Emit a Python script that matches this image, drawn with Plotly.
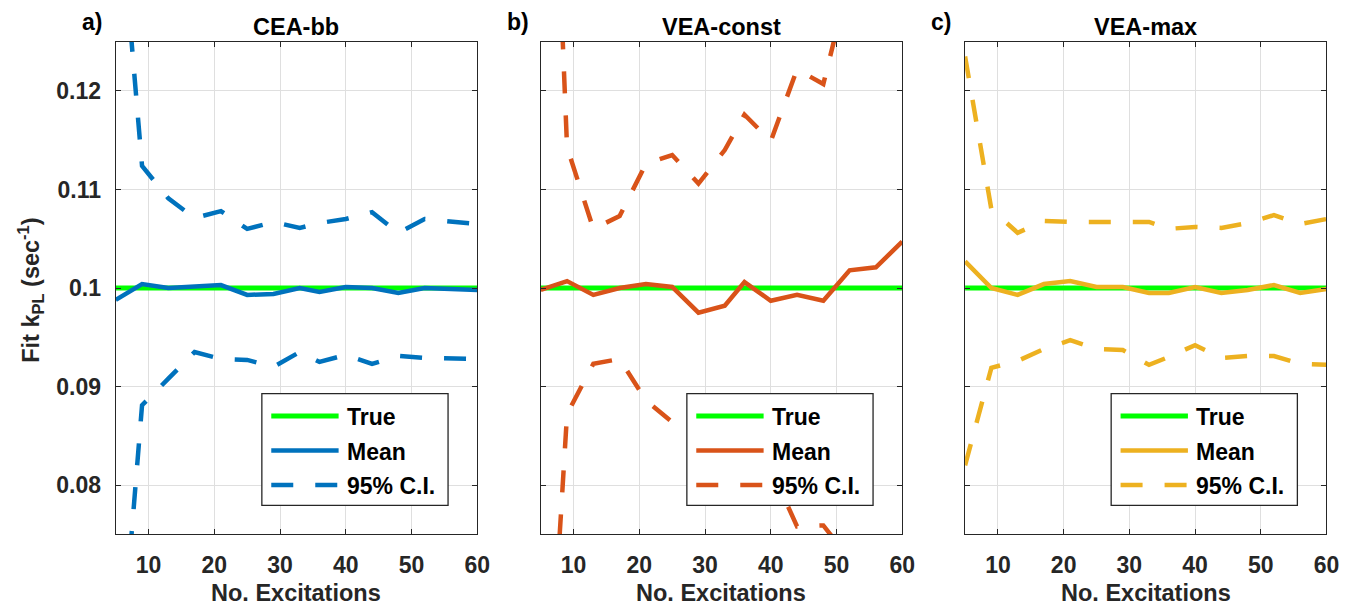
import plotly.graph_objects as go

# page body adds an 8px margin; the figure is sized/positioned to compensate
OFF = 8
W, H = 1370 - OFF, 610 - OFF

# ---------------- data ----------------
x_exc = [5, 9, 13, 17, 21, 25, 29, 33, 36, 40, 44, 48, 52, 56, 60]
TRUE_K = 0.1

a_mean = [0.0988, 0.1004, 0.1000, 0.1002, 0.1003, 0.0993, 0.0994, 0.1000, 0.0996, 0.1001, 0.1000, 0.0995, 0.1000, 0.0999, 0.0998]
a_upper = [0.144, 0.1124, 0.1091, 0.1071, 0.1078, 0.1060, 0.1067, 0.1061, 0.1066, 0.1070, 0.1077, 0.1056, 0.1070, 0.1068, 0.1065]
a_lower = [0.0553, 0.0881, 0.0908, 0.0935, 0.0928, 0.0927, 0.0920, 0.0935, 0.0925, 0.0932, 0.0923, 0.0931, 0.0929, 0.0928, 0.0928]

b_mean = [0.0998, 0.1007, 0.0993, 0.1000, 0.1004, 0.1001, 0.0975, 0.0982, 0.1006, 0.0987, 0.0993, 0.0987, 0.1018, 0.1021, 0.1047]
b_upper = [0.180, 0.1143, 0.1060, 0.1073, 0.1126, 0.1135, 0.1106, 0.1140, 0.1176, 0.1149, 0.1222, 0.1207, 0.1315, 0.138, 0.145]
b_lower = [0.0436, 0.0872, 0.0923, 0.0928, 0.0886, 0.0864, 0.0850, 0.0838, 0.0828, 0.0817, 0.0758, 0.0759, 0.0725, 0.068, 0.064]

c_mean = [0.1027, 0.1000, 0.0993, 0.1004, 0.1007, 0.1001, 0.1001, 0.0995, 0.0995, 0.1001, 0.0995, 0.0998, 0.1003, 0.0995, 0.0999]
c_upper = [0.1235, 0.1080, 0.1056, 0.1068, 0.1067, 0.1067, 0.1067, 0.1067, 0.1060, 0.1062, 0.1061, 0.1066, 0.1074, 0.1065, 0.1070]
c_lower = [0.0820, 0.0919, 0.0926, 0.0938, 0.0947, 0.0938, 0.0937, 0.0922, 0.0930, 0.0942, 0.0929, 0.0931, 0.0931, 0.0923, 0.0922]

panel_titles = ["CEA-bb", "VEA-const", "VEA-max"]
panel_letters = ["a)", "b)", "c)"]
panel_colors = ["#0072BD", "#D95319", "#EDB120"]
means = [a_mean, b_mean, c_mean]
uppers = [a_upper, b_upper, c_upper]
lowers = [a_lower, b_lower, c_lower]
legend_labels = ["True", "Mean", "95% C.I."]

y_tickvals = [0.08, 0.09, 0.1, 0.11, 0.12]
y_ticktext = ["0.08", "0.09", "0.1", "0.11", "0.12"]
x_tickvals = [10, 20, 30, 40, 50, 60]

# ---------------- layout geometry (screen pixels) ----------------
plot_left = [116.8, 545.9, 974.3]
plot_w = 364.9
top_px, bot_px = 41.7, 534.3
GREEN = "#00FF00"
AX = "#262626"
FONT = "Liberation Sans, Arial, Helvetica, sans-serif"
DASH = "22px,22px"
LW = 4.5


def fx(p):
    return (p - OFF) / W


def fy(p):
    return 1 - (p - OFF) / H


fig = go.Figure()
layout = dict(
    width=W, height=H,
    margin=dict(l=0, r=0, t=0, b=0),
    paper_bgcolor="white", plot_bgcolor="white",
    showlegend=False,
    font=dict(family=FONT, color=AX),
)
shapes = []
annotations = []

for i in range(3):
    s = "" if i == 0 else str(i + 1)
    xa, ya = "x" + s, "y" + s
    col = panel_colors[i]
    fig.add_trace(go.Scatter(x=x_exc, y=[TRUE_K] * len(x_exc), mode="lines",
                             line=dict(color=GREEN, width=5), xaxis=xa, yaxis=ya, name="True"))
    fig.add_trace(go.Scatter(x=x_exc, y=means[i], mode="lines",
                             line=dict(color=col, width=LW), xaxis=xa, yaxis=ya, name="Mean"))
    fig.add_trace(go.Scatter(x=x_exc, y=uppers[i], mode="lines",
                             line=dict(color=col, width=LW, dash=DASH), xaxis=xa, yaxis=ya, name="95% C.I."))
    fig.add_trace(go.Scatter(x=x_exc, y=lowers[i], mode="lines",
                             line=dict(color=col, width=LW, dash=DASH), xaxis=xa, yaxis=ya, name="95% C.I."))

    l = plot_left[i]
    layout["xaxis" + s] = dict(
        domain=[fx(l), fx(l + plot_w)], range=[5, 60], anchor=ya,
        tickvals=x_tickvals, ticks="inside", ticklen=5, tickwidth=1, tickcolor=AX,
        showline=True, linecolor=AX, linewidth=1.3, mirror="ticks",
        showgrid=True, gridcolor="#dfdfdf", gridwidth=1, zeroline=False,
        tickfont=dict(family=FONT, size=23, color=AX, weight="bold"),
        ticklabelstandoff=10,
    )
    layout["yaxis" + s] = dict(
        domain=[fy(bot_px), fy(top_px)], range=[0.075, 0.125], anchor=xa,
        tickvals=y_tickvals, ticktext=y_ticktext, showticklabels=(i == 0),
        ticks="inside", ticklen=5, tickwidth=1, tickcolor=AX,
        showline=True, linecolor=AX, linewidth=1.3, mirror="ticks",
        showgrid=True, gridcolor="#dfdfdf", gridwidth=1, zeroline=False,
        tickfont=dict(family=FONT, size=23, color=AX, weight="bold"),
        ticklabelstandoff=9,
    )

    cx = l + plot_w / 2
    annotations.append(dict(text="<b>%s</b>" % panel_titles[i], x=fx(cx), y=fy(27), xref="paper", yref="paper",
                            xanchor="center", yanchor="middle", showarrow=False,
                            font=dict(family=FONT, size=23.5, color="black")))
    annotations.append(dict(text="<b>%s</b>" % panel_letters[i], x=fx(l - 35), y=1.0, xref="paper", yref="paper",
                            xanchor="left", yanchor="top", borderpad=0, showarrow=False,
                            font=dict(family=FONT, size=23, color="black")))
    annotations.append(dict(text="<b>No. Excitations</b>", x=fx(cx), y=fy(593), xref="paper", yref="paper",
                            xanchor="center", yanchor="middle", showarrow=False,
                            font=dict(family=FONT, size=23.5, color=AX)))

    # legend box (drawn manually)
    bx0 = l + 147.5
    bx1 = bx0 + 188
    by0, by1 = 393.7, 505.3
    shapes.append(dict(type="rect", xref="paper", yref="paper", x0=fx(bx0), x1=fx(bx1), y0=fy(by1), y1=fy(by0),
                       line=dict(color=AX, width=1.3), fillcolor="white", layer="above"))
    row_y = [416, 450.5, 485]
    styles = [dict(color=GREEN, width=5), dict(color=col, width=LW), dict(color=col, width=LW, dash=DASH)]
    for r in range(3):
        shapes.append(dict(type="line", xref="paper", yref="paper", x0=fx(bx0 + 9.5), x1=fx(bx0 + 77.5),
                           y0=fy(row_y[r]), y1=fy(row_y[r]), line=styles[r], layer="above"))
        annotations.append(dict(text="<b>%s</b>" % legend_labels[r], x=fx(bx0 + 84), y=fy(row_y[r] + 1),
                                xref="paper", yref="paper", xanchor="left", yanchor="middle", showarrow=False,
                                font=dict(family=FONT, size=23, color="black")))

annotations.append(dict(text="<b>Fit k<sub>PL</sub> (sec<sup>-1</sup>)</b>", x=fx(30), y=fy(290),
                        xref="paper", yref="paper", xanchor="center", yanchor="middle", textangle=-90,
                        showarrow=False, font=dict(family=FONT, size=23.5, color=AX)))

layout["shapes"] = shapes
layout["annotations"] = annotations
fig.update_layout(**layout)
fig.write_html("out.html")
